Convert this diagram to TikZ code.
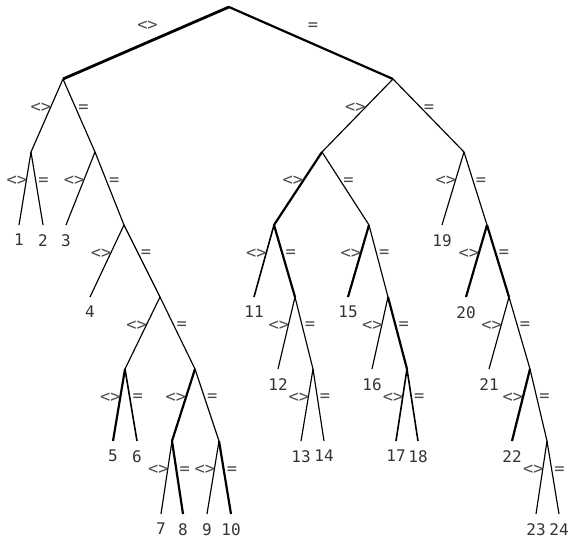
\documentclass[tikz,border=0pt]{standalone}
\usepackage{fontspec}
\newfontfamily\treefont{DejaVu Sans Mono}

\begin{document}
\begin{tikzpicture}[x=1pt, y=-1pt,
  thn/.style={line width=1.15pt},
  med/.style={line width=1.6pt},
  thk/.style={line width=2.2pt},
  lt/.style={pos=0.4, anchor=east, xshift=1.5pt, inner sep=0pt, text=black!70, font=\treefont\fontsize{17}{17}\selectfont},
  eq/.style={lt, anchor=west, xshift=0.5pt},
  leaf/.style={anchor=north, inner xsep=0pt, inner ysep=9pt, text=black!80, font=\treefont\fontsize{16}{16}\selectfont}
]
  \useasboundingbox (0,0) rectangle (571,543);

  \coordinate (r) at (229,7);
  \coordinate (a) at (63,79);
  \coordinate (b) at (393,79);
  \coordinate (a1) at (31,152);
  \coordinate (a2) at (95,152);
  \coordinate (a3) at (124,225);
  \coordinate (a4) at (160,297);
  \coordinate (a5) at (125,369);
  \coordinate (a6) at (195,369);
  \coordinate (a7) at (172,441);
  \coordinate (a8) at (219,441);
  \coordinate (b1) at (322,152);
  \coordinate (b2) at (464,152);
  \coordinate (b3) at (274,225);
  \coordinate (b4) at (369,225);
  \coordinate (b5) at (295,297);
  \coordinate (b6) at (388,297);
  \coordinate (b7) at (313,369);
  \coordinate (b8) at (407,369);
  \coordinate (b9) at (487,225);
  \coordinate (b10) at (509,297);
  \coordinate (b11) at (530,369);
  \coordinate (b12) at (547,441);

  \node[leaf] (n1) at (19,225) {1};
  \node[leaf] (n2) at (43,225) {2};
  \node[leaf] (n3) at (66,225) {3};
  \node[leaf] (n4) at (90,297) {4};
  \node[leaf] (n5) at (113,441) {5};
  \node[leaf] (n6) at (137,441) {6};
  \node[leaf] (n7) at (161,514) {7};
  \node[leaf] (n8) at (183,514) {8};
  \node[leaf] (n9) at (207,514) {9};
  \node[leaf] (n10) at (231,514) {10};
  \node[leaf] (n11) at (254,297) {11};
  \node[leaf] (n12) at (278,369) {12};
  \node[leaf] (n13) at (301,441) {13};
  \node[leaf] (n14) at (324,441) {14};
  \node[leaf] (n15) at (348,297) {15};
  \node[leaf] (n16) at (372,369) {16};
  \node[leaf] (n17) at (396,441) {17};
  \node[leaf] (n18) at (418,441) {18};
  \node[leaf] (n19) at (442,225) {19};
  \node[leaf] (n20) at (466,297) {20};
  \node[leaf] (n21) at (489,369) {21};
  \node[leaf] (n22) at (512,441) {22};
  \node[leaf] (n23) at (536,514) {23};
  \node[leaf] (n24) at (559,514) {24};

  \draw[line width=2.8pt] (r) -- node[lt, midway, above=11pt, xshift=0pt] {<>} (a);
  \draw[thk] (r) -- node[eq, midway, above=11pt, xshift=0pt] {=} (b);

  \draw[thn] (a) -- node[lt] {<>} (a1);
  \draw[thn] (a) -- node[eq] {=} (a2);
  \draw[thn] (a1) -- node[lt] {<>} (n1.north);
  \draw[thn] (a1) -- node[eq] {=} (n2.north);
  \draw[thn] (a2) -- node[lt] {<>} (n3.north);
  \draw[thn] (a2) -- node[eq] {=} (a3);
  \draw[thn] (a3) -- node[lt] {<>} (n4.north);
  \draw[thn] (a3) -- node[eq] {=} (a4);
  \draw[thn] (a4) -- node[lt] {<>} (a5);
  \draw[thn] (a4) -- node[eq] {=} (a6);
  \draw[thk] (a5) -- node[lt] {<>} (n5.north);
  \draw[med] (a5) -- node[eq] {=} (n6.north);
  \draw[thk] (a6) -- node[lt] {<>} (a7);
  \draw[thn] (a6) -- node[eq] {=} (a8);
  \draw[thn] (a7) -- node[lt] {<>} (n7.north);
  \draw[thk] (a7) -- node[eq] {=} (n8.north);
  \draw[thn] (a8) -- node[lt] {<>} (n9.north);
  \draw[thk] (a8) -- node[eq] {=} (n10.north);

  \draw[thn] (b) -- node[lt] {<>} (b1);
  \draw[thn] (b) -- node[eq] {=} (b2);
  \draw[thk] (b1) -- node[lt] {<>} (b3);
  \draw[thn] (b1) -- node[eq] {=} (b4);
  \draw[med] (b3) -- node[lt] {<>} (n11.north);
  \draw[thk] (b3) -- node[eq] {=} (b5);
  \draw[thn] (b5) -- node[lt] {<>} (n12.north);
  \draw[thn] (b5) -- node[eq] {=} (b7);
  \draw[thn] (b7) -- node[lt] {<>} (n13.north);
  \draw[thn] (b7) -- node[eq] {=} (n14.north);
  \draw[thk] (b4) -- node[lt] {<>} (n15.north);
  \draw[thn] (b4) -- node[eq] {=} (b6);
  \draw[thn] (b6) -- node[lt] {<>} (n16.north);
  \draw[thk] (b6) -- node[eq] {=} (b8);
  \draw[med] (b8) -- node[lt] {<>} (n17.north);
  \draw[med] (b8) -- node[eq] {=} (n18.north);
  \draw[thn] (b2) -- node[lt] {<>} (n19.north);
  \draw[thn] (b2) -- node[eq] {=} (b9);
  \draw[thk] (b9) -- node[lt] {<>} (n20.north);
  \draw[thk] (b9) -- node[eq] {=} (b10);
  \draw[thn] (b10) -- node[lt] {<>} (n21.north);
  \draw[thn] (b10) -- node[eq] {=} (b11);
  \draw[thk] (b11) -- node[lt] {<>} (n22.north);
  \draw[thn] (b11) -- node[eq] {=} (b12);
  \draw[thn] (b12) -- node[lt] {<>} (n23.north);
  \draw[thn] (b12) -- node[eq] {=} (n24.north);
\end{tikzpicture}
\end{document}
